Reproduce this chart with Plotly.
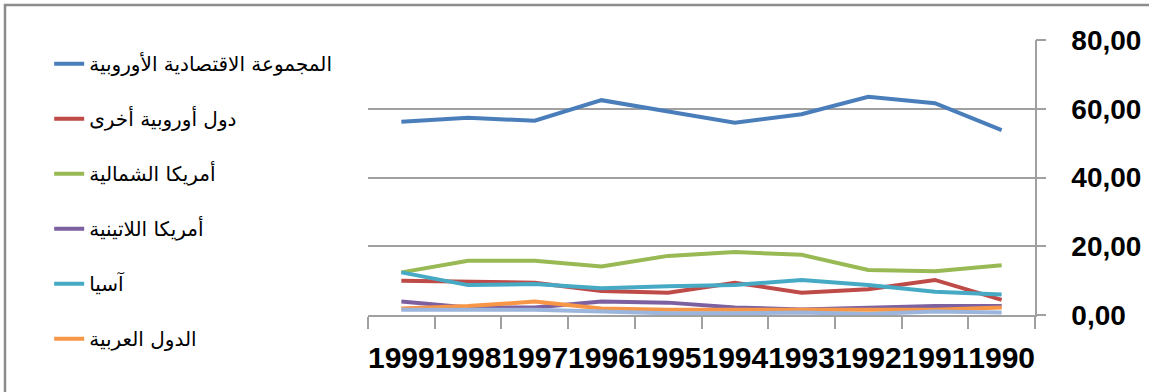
import plotly.graph_objects as go

# Years, shown from newest (left) to oldest (right)
years = ["1999", "1998", "1997", "1996", "1995", "1994", "1993", "1992", "1991", "1990"]

# Shares (%) by region
eu_group = [56.2, 57.4, 56.5, 62.5, 59.2, 55.9, 58.4, 63.5, 61.6, 53.8]
other_europe = [10.0, 9.7, 9.4, 7.0, 6.5, 9.4, 6.5, 7.5, 10.2, 4.4]
north_america = [12.4, 15.8, 15.8, 14.1, 17.2, 18.3, 17.5, 13.1, 12.7, 14.5]
latin_america = [3.9, 2.2, 2.2, 3.9, 3.6, 2.2, 1.6, 2.0, 2.6, 2.6]
asia = [12.4, 8.7, 9.0, 7.8, 8.4, 8.7, 10.2, 8.7, 6.8, 6.0]
arab_countries = [1.9, 2.6, 3.9, 1.9, 1.5, 1.5, 1.5, 1.3, 1.5, 2.2]
remaining = [1.5, 1.5, 1.5, 1.0, 0.5, 0.5, 0.7, 0.3, 1.0, 0.7]

series = [
    ("المجموعة الاقتصادية الأوروبية", eu_group, "#4A7EBB", True),
    ("دول أوروبية أخرى", other_europe, "#BE4B48", True),
    ("أمريكا الشمالية", north_america, "#98B954", True),
    ("أمريكا اللاتينية", latin_america, "#7D60A0", True),
    ("آسيا", asia, "#46AAC5", True),
    ("الدول العربية", arab_countries, "#F79646", True),
    ("remaining", remaining, "#9BB5DC", False),
]

y_ticks = [0, 20, 40, 60, 80]
grid_ticks = [20, 40, 60]

fig = go.Figure()
for i, (name, vals, color, in_legend) in enumerate(series):
    fig.add_trace(go.Scatter(
        x=years, y=vals, name=name, mode="lines",
        line=dict(color=color, width=4),
        legendgroup=f"g{i}", showlegend=in_legend,
    ))

axis_grey = "#a0a0a0"
helper = dict(overlaying="y", side="right", range=[0, 80], automargin=False,
              showticklabels=False, zeroline=False, showline=False)
fig.update_layout(
    template="none",
    width=1149, height=392,
    margin=dict(l=368, r=114, t=40, b=77, autoexpand=False),
    paper_bgcolor="white", plot_bgcolor="white",
    separators=",.",
    showlegend=True,
    legend=dict(
        x=-0.478, y=0.985, xanchor="left", yanchor="top",
        traceorder="grouped", tracegroupgap=26, maxheight=380,
        font=dict(family="DejaVu Sans", size=20, color="black"),
        bgcolor="rgba(0,0,0,0)", borderwidth=0,
    ),
    xaxis=dict(
        type="category", categoryorder="array", categoryarray=years,
        tickson="boundaries", ticks="outside", ticklen=12, tickcolor=axis_grey,
        tickwidth=1.5, automargin=False,
        showline=True, linecolor=axis_grey, linewidth=1.5,
        showgrid=False, zeroline=False, tickangle=0,
        tickfont=dict(family="Liberation Sans", size=30, color="black", weight="bold"),
        ticklabelstandoff=15,
        range=[-0.5, 9.5],
    ),
    # value labels; the transparent ticks only set the label distance
    yaxis=dict(
        side="right", range=[0, 80], tickvals=y_ticks, tickformat=".2f",
        ticks="outside", ticklen=29, tickcolor="rgba(0,0,0,0)", automargin=False,
        showline=True, linecolor=axis_grey, linewidth=1.5,
        showgrid=False, zeroline=False,
        tickfont=dict(family="Liberation Sans", size=28, color="black", weight="bold"),
    ),
    # outer half of the crossing tick marks
    yaxis2=dict(helper, tickvals=y_ticks, ticks="outside", ticklen=10,
                tickcolor=axis_grey, tickwidth=1.5, showgrid=False),
    # inner half of the crossing tick marks
    yaxis3=dict(helper, tickvals=y_ticks, ticks="inside", ticklen=15,
                tickcolor=axis_grey, tickwidth=1.5, showgrid=False),
    # horizontal gridlines
    yaxis4=dict(helper, tickvals=grid_ticks, ticks="", showgrid=True,
                gridcolor=axis_grey, gridwidth=1.5),
)

# empty traces binding the helper axes
for ax in ["y2", "y3", "y4"]:
    fig.add_trace(go.Scatter(x=[years[0]], y=[None], yaxis=ax,
                             showlegend=False, hoverinfo="skip"))

# chart frame
fig.add_shape(
    type="rect", xref="paper", yref="paper",
    xsizemode="pixel", ysizemode="pixel", xanchor=0, yanchor=0,
    x0=-363, x1=820, y0=-120, y1=310,
    line=dict(color="#8c8c8c", width=2.5), layer="below",
)

fig.write_html("out.html")
